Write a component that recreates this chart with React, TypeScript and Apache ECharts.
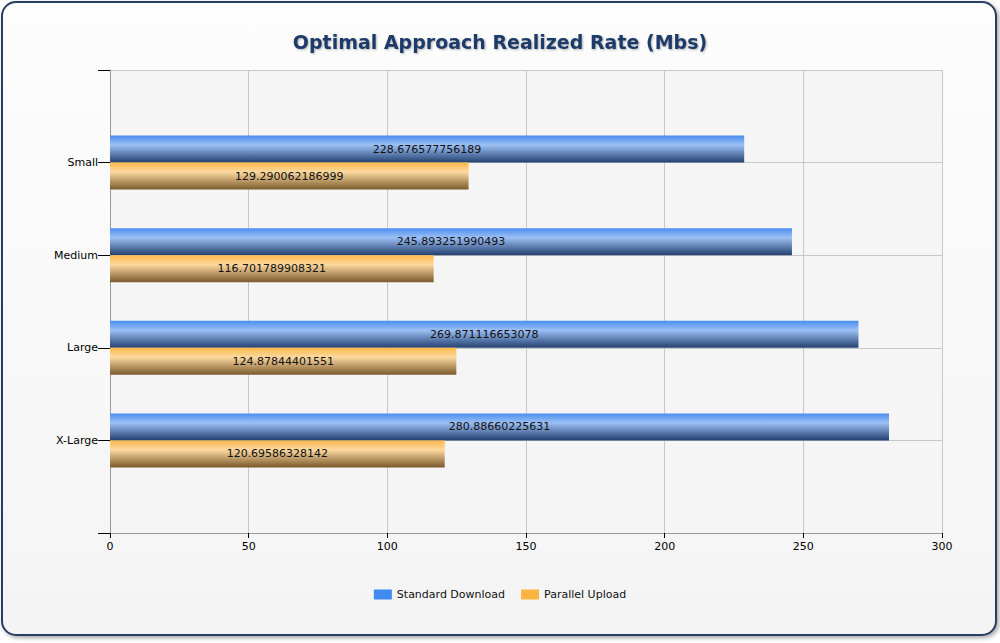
import React, { useEffect, useRef } from "react";
import * as echarts from "echarts";

const categories = ["", "Small", "Medium", "Large", "X-Large", ""];
const standardDownload = [null, 228.676577756189, 245.893251990493, 269.871116653078, 280.88660225631, null];
const parallelUpload = [null, 129.290062186999, 116.701789908321, 124.87844401551, 120.69586328142, null];
const xTicks = [0, 50, 100, 150, 200, 250, 300];

const grad = (top: string, mid: string, bottom: string) =>
  new echarts.graphic.LinearGradient(0, 0, 0, 1, [
    { offset: 0, color: top },
    { offset: 0.35, color: mid },
    { offset: 1, color: bottom },
  ]);

const App = () => {
  const chartRef = useRef(null);

  useEffect(() => {
    document.body.style.margin = "0";
    const myChart = echarts.init(chartRef.current, null, { renderer: "svg" });

    const labelStyle = {
      show: true,
      position: "inside",
      color: "#111",
      fontSize: 11,
      fontFamily: "DejaVu Sans",
      formatter: (p) => String(p.value),
    };

    const option = {
      animation: false,
      graphic: [
        {
          type: "rect",
          shape: { x: 2, y: 2, width: 994, height: 633, r: 14 },
          style: {
            fill: new echarts.graphic.LinearGradient(0, 0, 0, 1, [
              { offset: 0, color: "#fdfdfd" },
              { offset: 1, color: "#f4f4f4" },
            ]),
            stroke: "#2b3d63",
            lineWidth: 2,
            shadowColor: "rgba(0,0,0,0.35)",
            shadowBlur: 4,
            shadowOffsetX: 2,
            shadowOffsetY: 2,
          },
          z: -10,
        },
        {
          type: "rect",
          shape: { x: 110, y: 70, width: 832, height: 463 },
          style: { fill: "#f5f5f5" },
          z: -9,
        },
      ],
      title: {
        text: "Optimal Approach Realized Rate (Mbs)",
        left: "center",
        top: 27,
        textStyle: {
          fontFamily: "DejaVu Sans",
          fontSize: 19,
          fontWeight: "bold",
          color: "#1f3a68",
          textShadowColor: "rgba(0,0,0,0.3)",
          textShadowBlur: 2,
          textShadowOffsetX: 1,
          textShadowOffsetY: 1,
        },
      },
      legend: {
        bottom: 38,
        left: "center",
        itemWidth: 18,
        itemHeight: 10,
        itemGap: 16,
        icon: "rect",
        textStyle: { fontFamily: "DejaVu Sans", fontSize: 11, color: "#111" },
        data: ["Standard Download", "Parallel Upload"],
      },
      grid: { left: 110, right: 58, top: 70, bottom: 110 },
      xAxis: {
        type: "value",
        min: 0,
        max: 300,
        interval: 50,
        axisLine: { show: true, lineStyle: { color: "#999" } },
        axisTick: { show: true, length: 5, lineStyle: { color: "#000" } },
        axisLabel: {
          color: "#000",
          fontSize: 11,
          fontFamily: "DejaVu Sans",
          formatter: (v) => (xTicks.includes(v) ? String(v) : ""),
        },
        splitLine: { show: true, lineStyle: { color: "#c8c8c8" } },
      },
      yAxis: {
        type: "category",
        data: categories,
        inverse: true,
        boundaryGap: false,
        axisLine: { show: true, lineStyle: { color: "#999" } },
        axisTick: { show: true, length: 12, lineStyle: { color: "#000" } },
        axisLabel: {
          color: "#000",
          fontSize: 11,
          fontFamily: "DejaVu Sans",
          margin: 12,
        },
        splitLine: { show: true, lineStyle: { color: "#c8c8c8" } },
      },
      series: [
        {
          name: "Standard Download",
          type: "bar",
          data: standardDownload,
          barWidth: 27,
          barGap: "0%",
          itemStyle: { color: grad("#4a8df0", "#9cc0f5", "#233f6e") },
          label: labelStyle,
        },
        {
          name: "Parallel Upload",
          type: "bar",
          data: parallelUpload,
          barWidth: 27,
          barGap: "0%",
          itemStyle: { color: grad("#ffb848", "#fdd9a0", "#7a5a2c") },
          label: labelStyle,
        },
      ],
    };
    // legend icon colours: plain, not gradients
    option.series[0].itemStyle["borderWidth"] = 0;
    myChart.setOption(option);
    myChart.setOption({
      legend: {
        data: [
          { name: "Standard Download", itemStyle: { color: "#418af0" } },
          { name: "Parallel Upload", itemStyle: { color: "#fbb444" } },
        ],
      },
    });

    return () => {
      myChart.dispose();
    };
  }, []);

  return <div ref={chartRef} style={{ width: "1000px", height: "643px" }}></div>;
};

export default App;
